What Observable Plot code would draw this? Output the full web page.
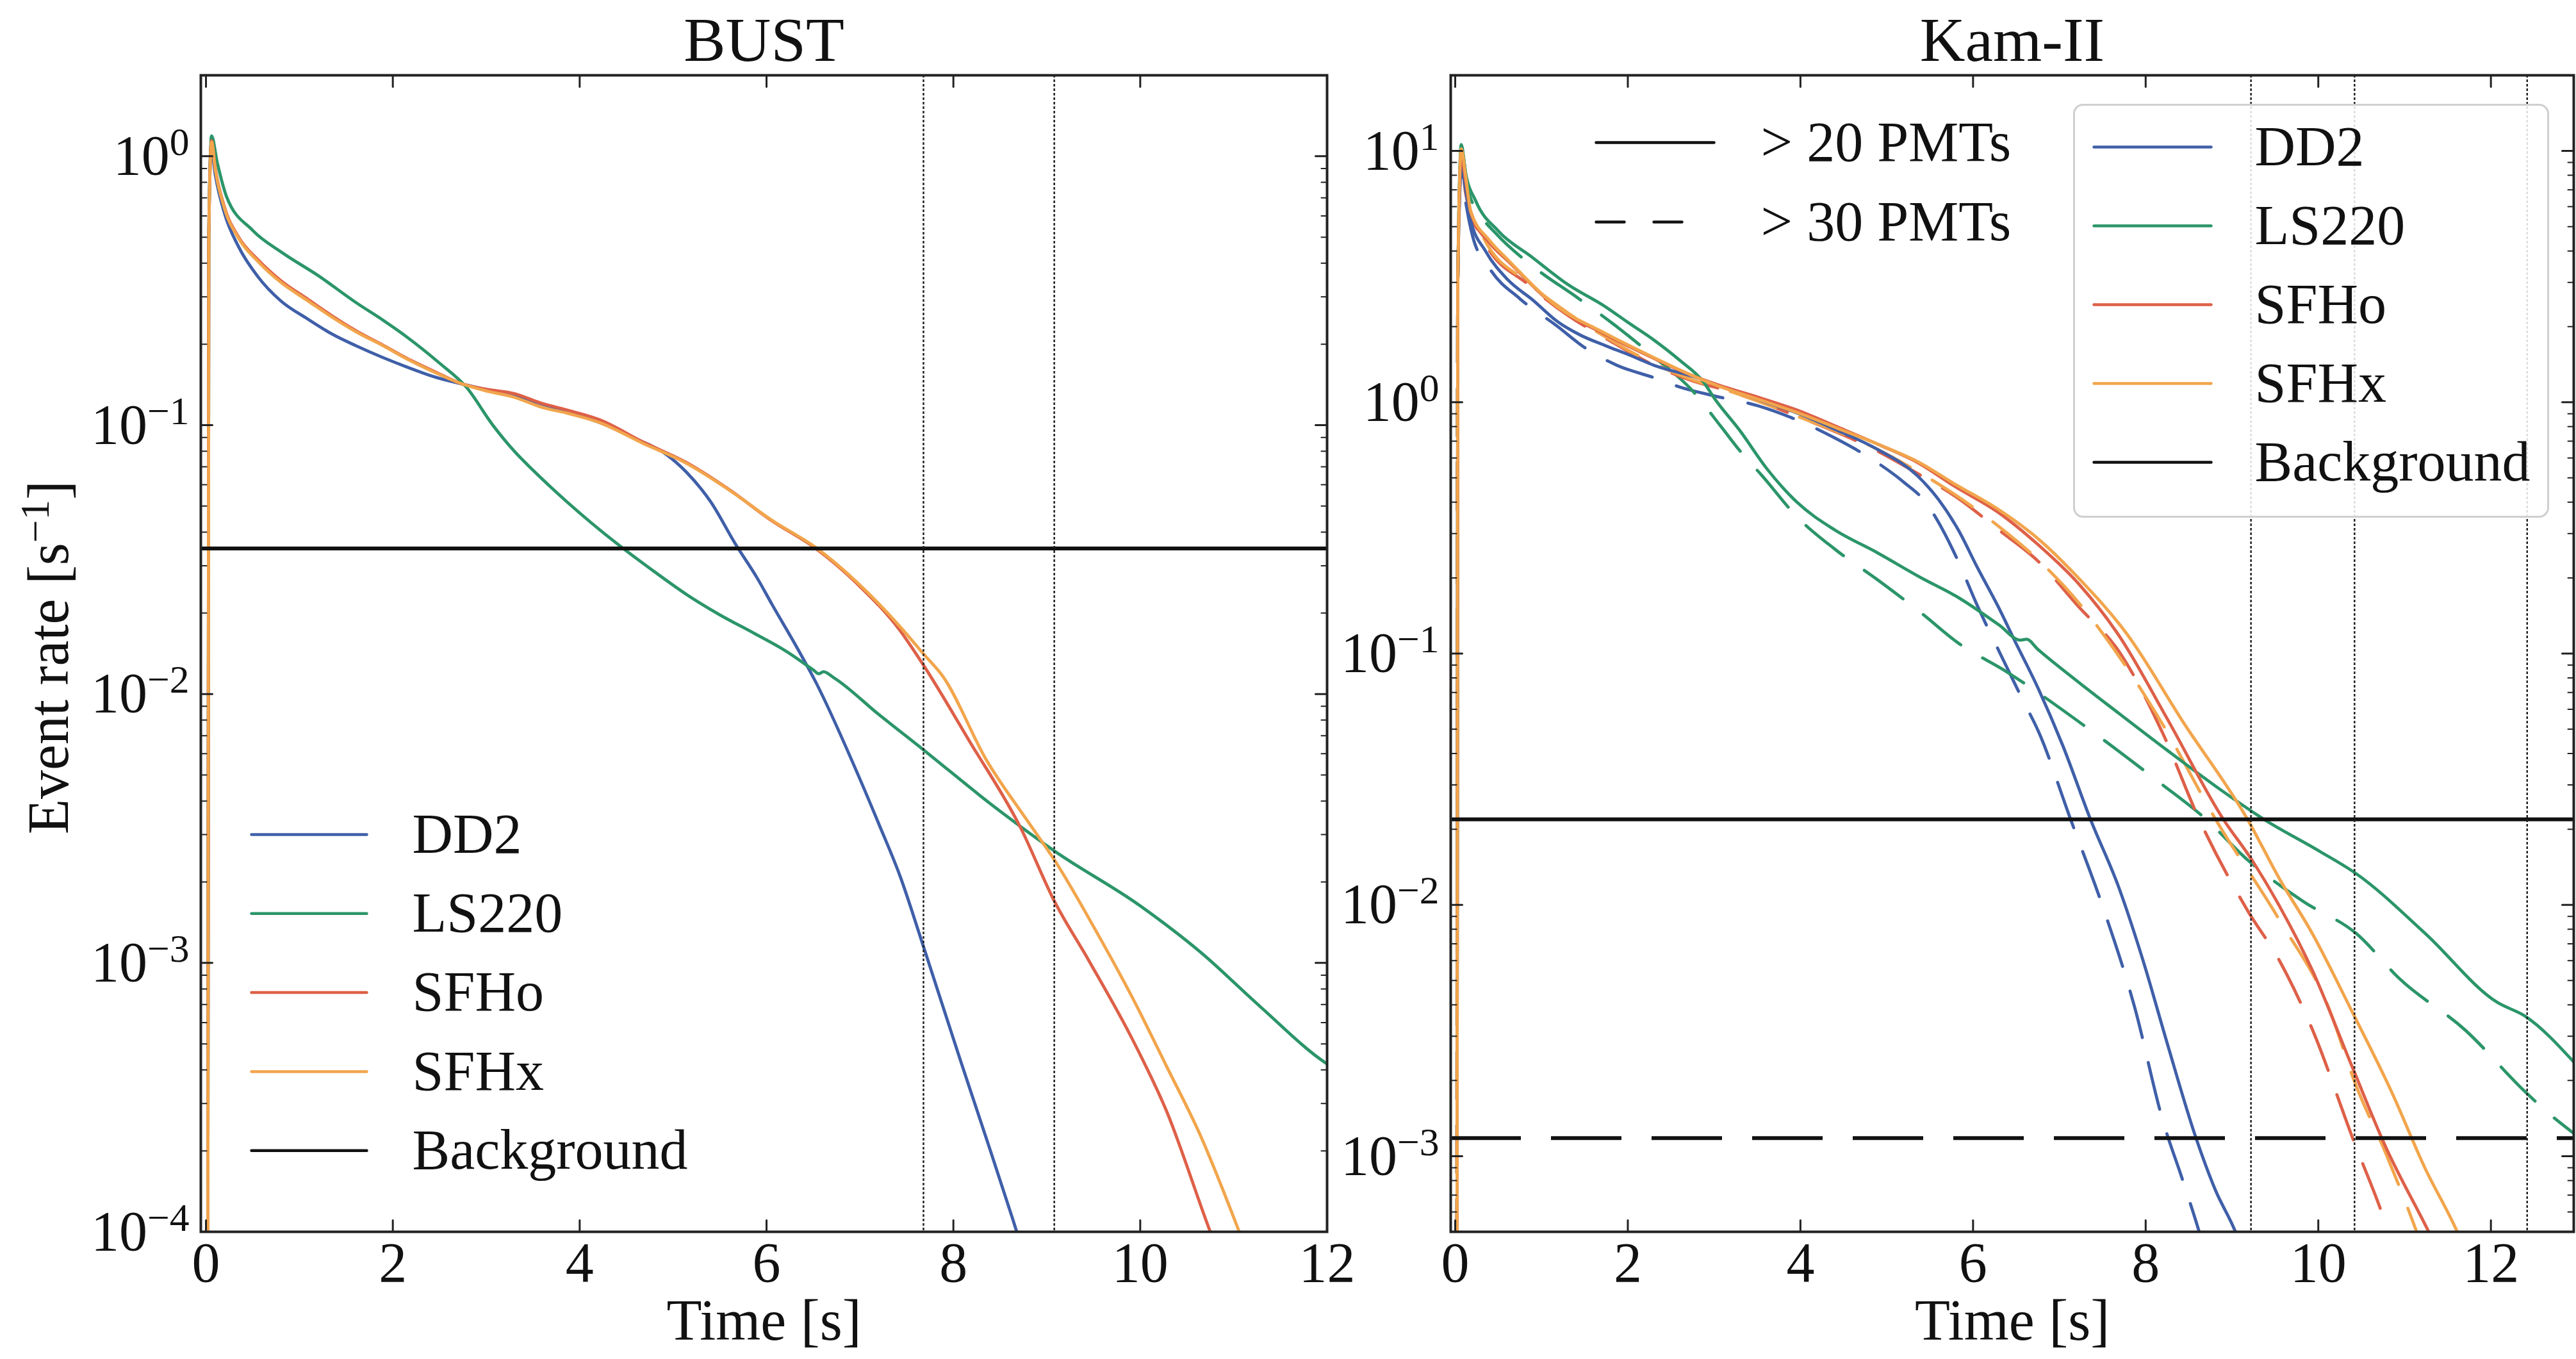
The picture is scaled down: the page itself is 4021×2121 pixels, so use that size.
<!DOCTYPE html>
<html><head><meta charset="utf-8">
<script src="https://cdn.jsdelivr.net/npm/d3@7"></script>
<script src="https://cdn.jsdelivr.net/npm/@observablehq/plot@0.6"></script>
<style>
html,body{margin:0;padding:0;background:#fff;}
#chart{position:relative;width:4021px;height:2121px;overflow:hidden;background:#fff;}
#chart svg{position:absolute;top:0;overflow:visible;}
</style></head>
<body><div id="chart"></div>
<script>
// ---------------- DATA ----------------
const eosNames = ["DD2", "LS220", "SFHo", "SFHx"];
const eosColors = ["#3f5fa8", "#2b9569", "#de6048", "#f2a54c"];

// BUST panel: [time s, event rate s^-1]
const bustDD2 = [[0.015,1e-6],[0.03,0.5],[0.055,1.08],[0.1,0.85],[0.2,0.61],[0.35,0.46],[0.56,0.355],[0.8,0.29],[1.09,0.248],[1.35,0.218],[1.61,0.197],[1.9,0.178],[2.14,0.165],[2.45,0.151],[2.75,0.142],[3.3,0.128],[3.8,0.114],[4.22,0.102],[4.6,0.089],[4.9,0.079],[5.14,0.067],[5.4,0.052],[5.67,0.036],[5.9,0.027],[6.06,0.0215],[6.33,0.0148],[6.52,0.0112],[6.97,0.0051],[7.2,0.0033],[7.43,0.0021],[7.68,0.00115],[8.07,0.00044],[8.35,0.000224],[8.63,0.000113],[8.9,5.7e-5]];
const bustLS220 = [[0.015,1e-6],[0.03,0.5],[0.06,1.19],[0.12,0.95],[0.22,0.708],[0.5,0.53],[0.82,0.437],[1.2,0.36],[1.61,0.285],[1.9,0.245],[2.14,0.214],[2.5,0.17],[2.79,0.138],[3.07,0.1],[3.3,0.08],[3.5,0.068],[3.86,0.052],[4.41,0.036],[4.8,0.0285],[5.14,0.0235],[5.5,0.0197],[5.87,0.0168],[6.2,0.0145],[6.5,0.0123],[6.56,0.0119],[6.61,0.0121],[6.72,0.0115],[7.2,0.0084],[7.68,0.0062],[8.4,0.0039],[9.08,0.00261],[10.0,0.00163],[10.64,0.0011],[11.28,0.00069],[11.97,0.000428],[12.1,0.0004]];
const bustSFHo = [[0.015,1e-6],[0.03,0.5],[0.06,1.14],[0.1,0.9],[0.195,0.652],[0.35,0.5],[0.56,0.411],[0.8,0.345],[1.09,0.294],[1.35,0.255],[1.61,0.224],[1.9,0.198],[2.14,0.178],[2.45,0.158],[2.75,0.142],[3.0,0.136],[3.3,0.131],[3.58,0.121],[3.9,0.113],[4.22,0.1045],[4.68,0.0865],[5.14,0.0727],[5.6,0.0576],[6.06,0.044],[6.52,0.0349],[6.97,0.0257],[7.43,0.0172],[7.68,0.0128],[8.17,0.0067],[8.72,0.00318],[9.08,0.0017],[9.45,0.00102],[9.91,0.000525],[10.28,0.000282],[10.75,1e-4],[11.0,6e-5]];
const bustSFHx = [[0.015,1e-6],[0.03,0.5],[0.06,1.13],[0.1,0.89],[0.195,0.645],[0.35,0.495],[0.56,0.405],[0.8,0.34],[1.09,0.29],[1.35,0.252],[1.61,0.222],[1.9,0.197],[2.14,0.177],[2.45,0.157],[2.75,0.142],[3.0,0.134],[3.3,0.127],[3.58,0.117],[3.9,0.11],[4.22,0.102],[4.68,0.0855],[5.14,0.0722],[5.6,0.0574],[6.06,0.0442],[6.52,0.0352],[6.97,0.026],[7.43,0.0178],[7.68,0.0141],[7.89,0.0116],[8.35,0.00571],[8.81,0.00331],[9.08,0.00242],[9.54,0.00129],[9.91,0.00075],[10.28,0.000414],[10.64,0.00023],[11.06,1e-4],[11.3,6e-5]];
const bustBackground = [0.0348];
const bustMarkers = [7.68, 9.08];

// Kam-II panel: > 20 PMTs (solid) and > 30 PMTs (dashed)
const kamDD2_20 = [[0.015,1e-6],[0.03,3],[0.07,8.65],[0.12,7.0],[0.18,5.3],[0.35,4.0],[0.61,3.07],[0.9,2.55],[1.18,2.1],[1.45,1.85],[1.74,1.68],[2.0,1.55],[2.31,1.4],[2.74,1.27],[3.2,1.12],[3.6,1.0],[3.96,0.906],[4.4,0.78],[4.89,0.65],[5.36,0.508],[5.6,0.41],[5.83,0.31],[6.05,0.22],[6.29,0.154],[6.48,0.113],[6.76,0.072],[7.04,0.043],[7.36,0.0219],[7.69,0.0117],[7.97,0.006],[8.25,0.00281],[8.58,0.00119],[8.81,0.00073],[9.04,5e-4],[9.2,3.5e-4]];
const kamDD2_30 = [[0.015,1e-6],[0.03,3],[0.07,8.2],[0.12,6.3],[0.2,4.6],[0.4,3.4],[0.75,2.58],[1.18,2.01],[1.5,1.65],[1.88,1.4],[2.31,1.25],[2.6,1.15],[3.0,1.06],[3.5,0.97],[3.96,0.85],[4.4,0.72],[4.89,0.575],[5.2,0.48],[5.45,0.4],[5.65,0.31],[5.83,0.232],[6.05,0.155],[6.29,0.104],[6.57,0.066],[6.76,0.0488],[7.13,0.0219],[7.5,0.0099],[7.87,0.00394],[8.2,0.00138],[8.43,0.0008],[8.62,5e-4],[8.8,3e-4]];
const kamLS220_20 = [[0.015,1e-6],[0.03,3],[0.07,10.6],[0.12,8.2],[0.24,6.3],[0.5,4.8],[0.89,3.78],[1.3,2.95],[1.74,2.4],[2.0,2.08],[2.31,1.76],[2.6,1.47],[2.88,1.2],[3.0,1.04],[3.3,0.77],[3.6,0.55],[3.96,0.4],[4.4,0.31],[4.89,0.252],[5.4,0.2],[5.83,0.167],[6.3,0.13],[6.55,0.113],[6.62,0.114],[6.75,0.104],[7.2,0.078],[7.69,0.0578],[8.25,0.0412],[8.9,0.0282],[9.37,0.0219],[10.02,0.0163],[10.44,0.0133],[11.24,0.00769],[12.07,0.0041],[12.4,0.0036],[12.96,0.00237]];
const kamLS220_30 = [[0.015,1e-6],[0.03,3],[0.07,10.2],[0.15,7.0],[0.3,5.5],[0.47,4.7],[0.95,3.37],[1.4,2.63],[1.83,2.05],[2.31,1.51],[2.74,1.12],[3.08,0.8],[3.3,0.64],[3.56,0.508],[3.96,0.35],[4.4,0.26],[4.89,0.197],[5.4,0.145],[5.83,0.11],[6.38,0.085],[7.32,0.0507],[8.16,0.0307],[8.7,0.0219],[9.18,0.0151],[9.83,0.0103],[10.44,0.00769],[10.95,0.00505],[11.7,0.00318],[12.4,0.0018],[12.68,0.00147],[12.99,0.00121]];
const kamSFHo_20 = [[0.015,1e-6],[0.03,3],[0.07,9.5],[0.12,7.6],[0.18,5.7],[0.4,4.3],[0.61,3.65],[1.18,2.38],[1.74,1.86],[2.31,1.49],[2.74,1.28],[3.02,1.18],[3.5,1.05],[4.0,0.92],[4.42,0.8],[4.9,0.68],[5.36,0.575],[5.8,0.46],[6.29,0.365],[6.76,0.27],[7.22,0.19],[7.69,0.118],[8.25,0.055],[8.9,0.0219],[9.23,0.0151],[9.55,0.00989],[9.93,0.0055],[10.39,0.00228],[10.77,0.00111],[11.28,5e-4],[11.5,3.5e-4]];
const kamSFHo_30 = [[0.015,1e-6],[0.03,3],[0.07,9.0],[0.12,6.8],[0.33,4.4],[0.84,2.95],[1.32,2.2],[1.74,1.8],[2.31,1.4],[2.74,1.22],[3.2,1.1],[3.96,0.88],[4.89,0.64],[5.36,0.52],[5.83,0.414],[6.3,0.31],[6.76,0.232],[7.22,0.154],[7.69,0.102],[8.2,0.048],[8.62,0.0219],[9.18,0.0095],[9.55,0.006],[9.93,0.0032],[10.39,0.0012],[10.81,5e-4],[11.0,3e-4]];
const kamSFHx_20 = [[0.015,1e-6],[0.03,3],[0.07,10.2],[0.12,8.0],[0.18,5.75],[0.4,4.4],[0.61,3.69],[1.18,2.4],[1.74,1.88],[2.31,1.5],[2.74,1.28],[3.02,1.17],[3.5,1.03],[4.0,0.9],[4.42,0.79],[4.9,0.68],[5.36,0.58],[5.8,0.47],[6.29,0.375],[6.76,0.285],[7.22,0.2],[7.78,0.12],[8.44,0.053],[9.18,0.0219],[9.55,0.0127],[9.93,0.0077],[10.39,0.00377],[10.86,0.00177],[11.23,0.000906],[11.61,5e-4],[11.8,3.5e-4]];
const kamSFHx_30 = [[0.015,1e-6],[0.03,3],[0.07,9.6],[0.12,7.0],[0.33,4.5],[0.84,3.0],[1.32,2.25],[1.74,1.82],[2.31,1.42],[2.74,1.23],[3.2,1.1],[3.96,0.88],[4.89,0.65],[5.36,0.53],[5.83,0.42],[6.3,0.32],[6.76,0.235],[7.22,0.16],[7.6,0.108],[8.2,0.052],[8.81,0.0219],[9.55,0.0087],[10.12,0.0039],[10.44,0.0019],[10.77,0.00105],[11.14,5e-4],[11.3,3.5e-4]];
const kamBackground20 = [0.0219];
const kamBackground30 = [0.00118];
const kamMarkers = [9.22, 10.42, 12.42];

// axis ticks and labels
const bustXTicks = [0, 2, 4, 6, 8, 10, 12];
const kamXTicks = [0, 2, 4, 6, 8, 10, 12];
const bustYMajor = [1e-4, 1e-3, 1e-2, 1e-1, 1];
const kamYMajor = [1e-3, 1e-2, 1e-1, 1, 10];
const pmtLabels = ["> 20 PMTs", "> 30 PMTs"];
const legendLabels = ["DD2", "LS220", "SFHo", "SFHx", "Background"];

// ---------------- DRAWING ----------------
const FONT = "'Liberation Serif', 'DejaVu Serif', serif";
const lineShape = {draw(ctx, l) { ctx.moveTo(0, 0); ctx.lineTo(0, -l); }};
const minorTicks = (lo, hi) => {
  const out = [];
  for (let e = Math.floor(Math.log10(lo)); e <= Math.ceil(Math.log10(hi)); e++)
    for (let m = 2; m <= 9; m++) { const v = m * Math.pow(10, e); if (v > lo * 1.0001 && v < hi * 0.9999) out.push(v); }
  return out;
};
const rows = (pairs) => pairs.map(([t, v]) => ({t, v}));

function tickMarks(xTicks, yMajor, yMinor) {
  const c = {shape: lineShape, anchor: "start", stroke: "#222"};
  return [
    Plot.vector(xTicks, {...c, x: d => d, frameAnchor: "bottom", rotate: 0, length: 18, strokeWidth: 3}),
    Plot.vector(xTicks, {...c, x: d => d, frameAnchor: "top", rotate: 180, length: 18, strokeWidth: 3}),
    Plot.vector(yMajor, {...c, y: d => d, frameAnchor: "left", rotate: 90, length: 18, strokeWidth: 3}),
    Plot.vector(yMajor, {...c, y: d => d, frameAnchor: "right", rotate: -90, length: 18, strokeWidth: 3}),
    Plot.vector(yMinor, {...c, y: d => d, frameAnchor: "left", rotate: 90, length: 9, strokeWidth: 2}),
    Plot.vector(yMinor, {...c, y: d => d, frameAnchor: "right", rotate: -90, length: 9, strokeWidth: 2})
  ];
}
function legendLine(dx, dy, len, stroke, dash, sw = 4.5) {
  return Plot.vector([0], {frameAnchor: "top-left", dx, dy, rotate: 90, length: len, shape: lineShape, anchor: "start", stroke, strokeWidth: sw, strokeDasharray: dash});
}
function legendText(label, dx, dy) {
  return Plot.text([label], {frameAnchor: "top-left", dx, dy, text: d => d, textAnchor: "start", lineAnchor: "middle", fontSize: 88, fill: "#111"});
}
function curve(data, color, dash) {
  return Plot.line(rows(data), {x: "t", y: "v", stroke: color, strokeWidth: 4.8, strokeDasharray: dash, curve: "monotone-x", clip: true});
}
function basePlot({width, marginLeft, marginRight, xDomain, yDomain, xTicks, yMajor, title, marks, extra}) {
  return Plot.plot({
    width, height: 2121, marginLeft, marginRight, marginTop: 117, marginBottom: 199,
    style: {fontFamily: FONT, fontSize: "88px", color: "#111", background: "none", overflow: "visible"},
    x: {domain: xDomain},
    y: {type: "log", domain: yDomain},
    marks: [
      ...marks,
      Plot.frame({stroke: "#222", strokeWidth: 4}),
      ...tickMarks(xTicks, yMajor, minorTicks(yDomain[0], yDomain[1])),
      Plot.axisX({ticks: xTicks, tickSize: 0, tickPadding: 15, tickFormat: d => String(d), label: null, fontSize: 88}),
      Plot.axisY({ticks: yMajor, tickSize: 0, tickPadding: 18, tickFormat: d => "10^" + Math.round(Math.log10(d)), label: null, fontSize: 88}),
      Plot.text([title], {frameAnchor: "top", dy: -54, text: d => d, lineAnchor: "middle", textAnchor: "middle", fontSize: 98}),
      Plot.text(["Time [s]"], {frameAnchor: "bottom", dy: 140, text: d => d, lineAnchor: "middle", textAnchor: "middle", fontSize: 90}),
      ...extra
    ]
  });
}

// superscripts ("10^-1" -> 10 with raised −1)
function supify(svg) {
  const ns = "http://www.w3.org/2000/svg";
  svg.querySelectorAll("text").forEach(t => {
    if (t.querySelector("tspan")) return;
    const m = t.textContent.match(/^(.*?)\^\{?([−-]?\d+)\}?(.*)$/);
    if (!m) return;
    t.textContent = "";
    const a = document.createElementNS(ns, "tspan"); a.textContent = m[1]; t.appendChild(a);
    const b = document.createElementNS(ns, "tspan");
    b.setAttribute("dy", "-30"); b.setAttribute("font-size", "0.7em");
    b.textContent = m[2].replace("-", "−"); t.appendChild(b);
    if (m[3]) { const c = document.createElementNS(ns, "tspan"); c.setAttribute("dy", "30"); c.textContent = m[3]; t.appendChild(c); }
  });
}

const bustSeries = [bustDD2, bustLS220, bustSFHo, bustSFHx];
const left = basePlot({
  width: 2110, marginLeft: 313, marginRight: 39,
  xDomain: [-0.055, 12.0], yDomain: [1e-4, 2.0],
  xTicks: bustXTicks, yMajor: bustYMajor, title: "BUST",
  marks: [
    ...bustSeries.map((s, i) => curve(s, eosColors[i])),
    Plot.ruleY(bustBackground, {stroke: "#111", strokeWidth: 6}),
    Plot.ruleX(bustMarkers, {stroke: "#222", strokeWidth: 2.5, strokeDasharray: "4,3"})
  ],
  extra: [
    Plot.text(["Event rate [s^-1]"], {frameAnchor: "left", dx: -236, dy: 6, rotate: -90, text: d => d, textAnchor: "middle", lineAnchor: "middle", fontSize: 90}),
    ...legendLabels.flatMap((lab, i) => [
      legendLine(79, 1185 + 123.3 * i, 180, i < 4 ? eosColors[i] : "#111"),
      legendText(lab, 330, 1185 + 123.3 * i)
    ])
  ]
});

const kamSolid = [kamDD2_20, kamLS220_20, kamSFHo_20, kamSFHx_20];
const kamDashed = [kamDD2_30, kamLS220_30, kamSFHo_30, kamSFHx_30];
const right = basePlot({
  width: 1911, marginLeft: 154, marginRight: 4,
  xDomain: [-0.052, 12.96], yDomain: [5e-4, 20],
  xTicks: kamXTicks, yMajor: kamYMajor, title: "Kam-II",
  marks: [
    ...kamDashed.map((s, i) => curve(s, eosColors[i], "75,40")),
    ...kamSolid.map((s, i) => curve(s, eosColors[i])),
    Plot.ruleY(kamBackground20, {stroke: "#111", strokeWidth: 6}),
    Plot.ruleY(kamBackground30, {stroke: "#111", strokeWidth: 6, strokeDasharray: "110,47"}),
    Plot.ruleX(kamMarkers, {stroke: "#222", strokeWidth: 2.5, strokeDasharray: "4,3"})
  ],
  extra: [
    legendLine(227, 105, 184, "#111", null),
    legendLine(227, 229, 184, "#111", "44,46,44,60"),
    legendText(pmtLabels[0], 484, 105),
    legendText(pmtLabels[1], 484, 229),
    Plot.frame({insetLeft: 973, insetRight: 40, insetTop: 46, insetBottom: 1116, rx: 14, fill: "white", fillOpacity: 0.85, stroke: "#cfcfcf", strokeWidth: 3}),
    ...legendLabels.flatMap((lab, i) => [
      legendLine(1004, 112 + 123 * i, 183, i < 4 ? eosColors[i] : "#111"),
      legendText(lab, 1255, 112 + 123 * i)
    ])
  ]
});

supify(left); supify(right);
left.style.left = "0px";
right.style.left = "2110px";
const chart = document.getElementById("chart");
chart.appendChild(left);
chart.appendChild(right);
</script>
</body></html>
